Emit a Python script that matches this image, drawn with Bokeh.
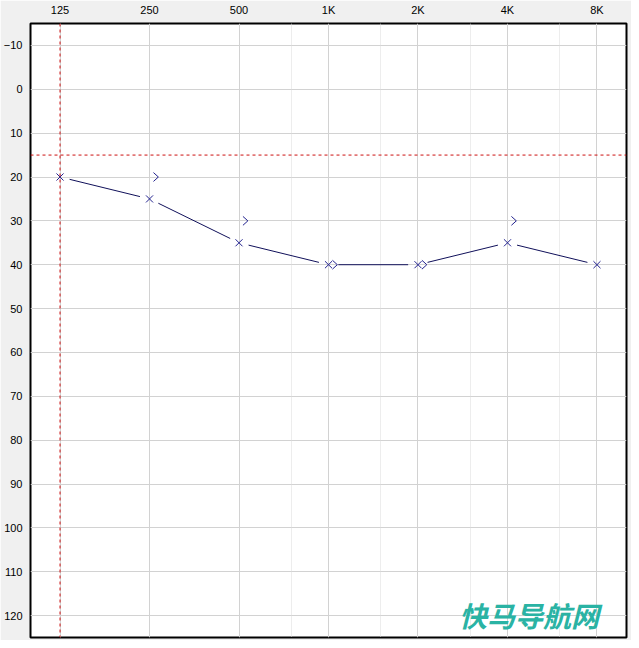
import numpy as np
from bokeh.plotting import figure
from bokeh.models import Range1d, FixedTicker, Span, Label, Grid
from bokeh.embed import file_html
from bokeh.resources import INLINE

# ---- data ----
freqs = [125, 250, 500, 1000, 2000, 4000, 8000]
freq_labels = ["125", "250", "500", "1K", "2K", "4K", "8K"]
half_freqs = [750, 1500, 3000, 6000]
air_db = [20, 25, 35, 40, 40, 35, 40]
bone_freqs = [250, 500, 1000, 2000, 4000]
bone_db = [20, 30, 40, 40, 30]
db_ticks = list(range(-10, 130, 10))
ref_freq = 125
ref_db = 15
watermark = "快马导航网"

# ---- layout ----
W, H = 631, 640
BL, BR, BT, BB = 20, 5, 14, 3
FW = W - BL - BR
FH = H - BT - BB
x0, x1 = 125 * 2 ** -0.33, 8000 * 2 ** 0.33
y0, y1 = 125, -15
px_oct = FW / np.log2(x1 / x0)
px_db = FH / abs(y1 - y0)

FONT = "Liberation Sans"
MARK = "#23238f"
LINE = "#10105a"

p = figure(width=W, height=H, x_axis_type="log", x_axis_location="above",
           x_range=Range1d(x0, x1), y_range=Range1d(y0, y1),
           output_backend="svg", toolbar_location=None,
           min_border_left=BL, min_border_right=BR, min_border_top=BT, min_border_bottom=BB)

p.background_fill_color = "white"
p.border_fill_color = "#f0f0f0"
p.outline_line_color = "black"
p.outline_line_width = 2

xa = p.xaxis[0]
xa.ticker = FixedTicker(ticks=freqs, minor_ticks=[])
xa.major_label_overrides = {f: l for f, l in zip(freqs, freq_labels)}
ya = p.yaxis[0]
ya.ticker = FixedTicker(ticks=db_ticks, minor_ticks=[])
for ax in (xa, ya):
    ax.axis_line_color = None
    ax.major_tick_line_color = None
    ax.minor_tick_line_color = None
    ax.major_label_text_font = FONT
    ax.major_label_text_font_size = "11px"
    ax.major_label_text_color = "black"
    ax.major_label_standoff = 2

p.xgrid.ticker = FixedTicker(ticks=freqs, minor_ticks=[])
p.ygrid.ticker = FixedTicker(ticks=db_ticks, minor_ticks=[])
p.xgrid.grid_line_color = "#d2d2d2"
p.ygrid.grid_line_color = "#d2d2d2"
half_grid = Grid(dimension=0, ticker=FixedTicker(ticks=half_freqs, minor_ticks=[]),
                 grid_line_color="#dadada", grid_line_dash="1 1")
p.add_layout(half_grid)

# reference lines
p.add_layout(Span(location=ref_freq, dimension="height", line_color="#cc1010",
                  line_dash="3 3", line_width=1))
p.add_layout(Span(location=ref_db, dimension="width", line_color="#cc1010",
                  line_dash="3 3", line_width=1))

# connecting lines with gaps around the markers
ox = np.log2(np.array(freqs, dtype=float) / 125)
ad = np.array(air_db, dtype=float)
gap = 10
sx0, sy0, sx1, sy1 = [], [], [], []
for i in range(len(freqs) - 1):
    dx = (ox[i + 1] - ox[i]) * px_oct
    dy = (ad[i + 1] - ad[i]) * px_db
    L = np.hypot(dx, dy)
    ux, uy = dx / L, dy / L
    sx0.append(125 * 2 ** (ox[i] + ux * gap / px_oct))
    sy0.append(ad[i] + uy * gap / px_db)
    sx1.append(125 * 2 ** (ox[i + 1] - ux * gap / px_oct))
    sy1.append(ad[i + 1] - uy * gap / px_db)
p.segment(x0=sx0, y0=sy0, x1=sx1, y1=sy1, line_color=LINE, line_width=1)

# air conduction X markers
p.scatter(freqs, air_db, marker="x", size=10, line_color=MARK, line_width=1)

# bone conduction ">" markers
cx, cy = [], []
for f, d in zip(bone_freqs, bone_db):
    cx.append([f * 2 ** (4 / px_oct), f * 2 ** (9 / px_oct), f * 2 ** (4 / px_oct)])
    cy.append([d - 4.5 / px_db, d, d + 4.5 / px_db])
p.multi_line(cx, cy, line_color=MARK, line_width=1)

# watermark
p.add_layout(Label(x=2750, y=119.8, text=watermark, text_font="Noto Sans CJK SC",
                   text_font_style="bold italic", text_font_size="28px",
                   text_color="#2ab3a4", text_baseline="middle", text_align="left"))

open("out.html", "w").write(file_html(p, INLINE))
